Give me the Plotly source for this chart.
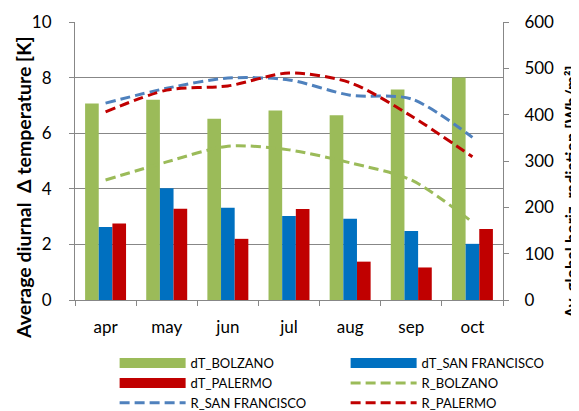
import plotly.graph_objects as go

months = ['apr', 'may', 'jun', 'jul', 'aug', 'sep', 'oct']

# diurnal temperature range [K]
dt_bolzano = [7.07, 7.20, 6.52, 6.82, 6.65, 7.57, 8.00]
dt_sanfrancisco = [2.63, 4.02, 3.32, 3.02, 2.92, 2.48, 2.02]
dt_palermo = [2.75, 3.28, 2.20, 3.27, 1.38, 1.17, 2.55]

# global horizontal radiation [Wh/m2]
r_bolzano = [259, 298, 332, 324, 296, 259, 168]
r_sanfrancisco = [425, 457, 479, 475, 442, 434, 351]
r_palermo = [406, 453, 462, 490, 469, 397, 309]

GREEN = '#9BBB59'
BLUE = '#0070C0'
RED = '#C00000'
LBLUE = '#4F81BD'
GRID = '#878787'
FONT = 'Lato, Arial, sans-serif'
DASH = '10px,5px'

fig = go.Figure()

# bars (legend is drawn with proxies below so the keys look like wide blocks)
for name, vals, col in [('dT_BOLZANO', dt_bolzano, GREEN),
                        ('dT_SAN FRANCISCO', dt_sanfrancisco, BLUE),
                        ('dT_PALERMO', dt_palermo, RED)]:
    fig.add_trace(go.Bar(x=months, y=vals, name=name, marker=dict(color=col, line=dict(width=0)),
                         showlegend=False, legendgroup=name))

# radiation lines on the secondary axis
for name, vals, col in [('R_BOLZANO', r_bolzano, GREEN),
                        ('R_SAN FRANCISCO', r_sanfrancisco, LBLUE),
                        ('R_PALERMO', r_palermo, RED)]:
    fig.add_trace(go.Scatter(x=months, y=vals, name=name, yaxis='y2', mode='lines',
                             line=dict(color=col, width=3, dash=DASH, shape='spline', smoothing=0.8),
                             showlegend=False, legendgroup=name))

# legend proxies, ordered row by row like the original
legend_items = [('dT_BOLZANO', GREEN, 'solid', 10), ('dT_SAN FRANCISCO', BLUE, 'solid', 10),
                ('dT_PALERMO', RED, 'solid', 10), ('R_BOLZANO', GREEN, DASH, 3),
                ('R_SAN FRANCISCO', LBLUE, DASH, 3), ('R_PALERMO', RED, DASH, 3)]
for name, col, dash, w in legend_items:
    fig.add_trace(go.Scatter(x=[None], y=[None], name=name, mode='lines', legendgroup=name,
                             line=dict(color=col, width=w, dash=dash)))

# axis titles as annotations, Excel centres them lower than the plot area
fig.add_annotation(text='<b>Average diurnal \u00a0Δ temperature [K]</b>', textangle=-90,
                   xref='paper', yref='paper', x=-0.122, y=0.406, xanchor='center', yanchor='middle',
                   showarrow=False, font=dict(size=19.5))
fig.add_annotation(text='<b>Av. global horiz. radiation [Wh/m²]</b>', textangle=-90,
                   xref='paper', yref='paper', x=1.16, y=0.39, xanchor='center', yanchor='middle',
                   showarrow=False, font=dict(size=16.5))

# the page adds an 8px body margin, so the figure is 8px smaller and shifted
fig.update_layout(
    width=571, height=403,
    margin=dict(l=67, r=76, t=14, b=111, autoexpand=False),
    paper_bgcolor='white', plot_bgcolor='white',
    font=dict(family=FONT, size=17, color='#000000'),
    barmode='group', bargap=0.33, bargroupgap=0,
    xaxis=dict(showline=True, linecolor=GRID, linewidth=1, ticks='outside', tickson='boundaries',
               ticklen=5, tickcolor=GRID, showgrid=False, ticklabelstandoff=12),
    yaxis=dict(range=[0, 10], dtick=2, showline=True, linecolor=GRID, ticks='outside', ticklen=5,
               tickcolor=GRID, showgrid=True, gridcolor=GRID, gridwidth=1, zeroline=False,
               ticklabelstandoff=14),
    yaxis2=dict(range=[0, 600], dtick=100, overlaying='y', side='right', showline=True, linecolor=GRID,
                ticks='outside', ticklen=5, tickcolor=GRID, showgrid=False, zeroline=False,
                ticklabelstandoff=12),
    legend=dict(orientation='h', x=1.172, xanchor='right', y=-0.173, yanchor='top',
                entrywidth=150, entrywidthmode='pixels', itemwidth=66, tracegroupgap=0,
                font=dict(size=13), bgcolor='rgba(0,0,0,0)'),
)

fig.write_html("out.html")
